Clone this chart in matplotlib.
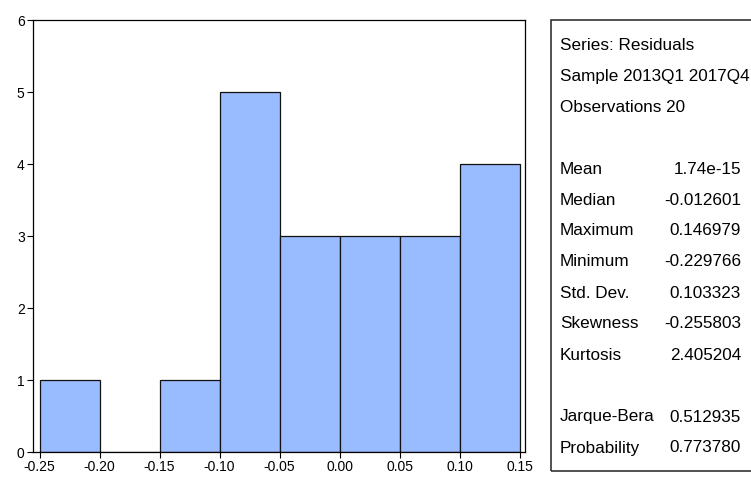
import matplotlib
matplotlib.use("Agg")
import matplotlib.pyplot as plt
import numpy as np
from matplotlib.patches import Rectangle

# histogram of residuals
bin_edges = [-0.25, -0.20, -0.15, -0.10, -0.05, 0.00, 0.05, 0.10, 0.15]
counts = [1, 0, 1, 5, 3, 3, 3, 4]
xticks = [-0.25, -0.20, -0.15, -0.10, -0.05, 0.00, 0.05, 0.10, 0.15]
yticks = [0, 1, 2, 3, 4, 5, 6]

header = ["Series: Residuals", "Sample 2013Q1 2017Q4", "Observations 20"]
stat_names = ["Mean", "Median", "Maximum", "Minimum", "Std. Dev.", "Skewness", "Kurtosis"]
stat_values = ["1.74e-15", "-0.012601", "0.146979", "-0.229766", "0.103323", "-0.255803", "2.405204"]
test_names = ["Jarque-Bera", "Probability"]
test_values = ["0.512935", "0.773780"]

plt.rcParams['font.family'] = ['Liberation Sans', 'DejaVu Sans']

fig = plt.figure(figsize=(7.51, 4.80), dpi=100)
ax = fig.add_axes([33/751, 28/480, (525-33)/751, (452-20)/480])

lefts = np.array(bin_edges[:-1])
widths = np.diff(bin_edges)
ax.bar(lefts, counts, width=widths, align="edge", color="#99bbff",
       edgecolor="#111111", linewidth=0.9)

ax.set_xlim(-0.2555, 0.1545)
ax.set_ylim(0, 6)
ax.set_xticks(xticks)
ax.set_xticklabels(["%.2f" % v for v in xticks])
ax.set_yticks(yticks)
ax.tick_params(axis="both", labelsize=10, length=4, width=0.8, pad=2)
for s in ax.spines.values():
    s.set_linewidth(0.9)

# stats box
fig.patches.append(Rectangle((551/751, 1 - 471/480), 210/751, (471-20)/480,
                             transform=fig.transFigure, fill=False,
                             edgecolor="#333333", linewidth=1.2))

fs = 12.3
x_lab = 560/751
x_val = 741/751
row_h = 31
y = 45
for t in header:
    fig.text(x_lab, 1 - y/480, t, fontsize=fs, va="center", ha="left")
    y += row_h
y += row_h
for n, v in zip(stat_names, stat_values):
    fig.text(x_lab, 1 - y/480, n, fontsize=fs, va="center", ha="left")
    fig.text(x_val, 1 - y/480, v, fontsize=fs, va="center", ha="right")
    y += row_h
y += row_h
for n, v in zip(test_names, test_values):
    fig.text(x_lab, 1 - y/480, n, fontsize=fs, va="center", ha="left")
    fig.text(x_val, 1 - y/480, v, fontsize=fs, va="center", ha="right")
    y += row_h

fig.savefig("out.png", dpi=100)
